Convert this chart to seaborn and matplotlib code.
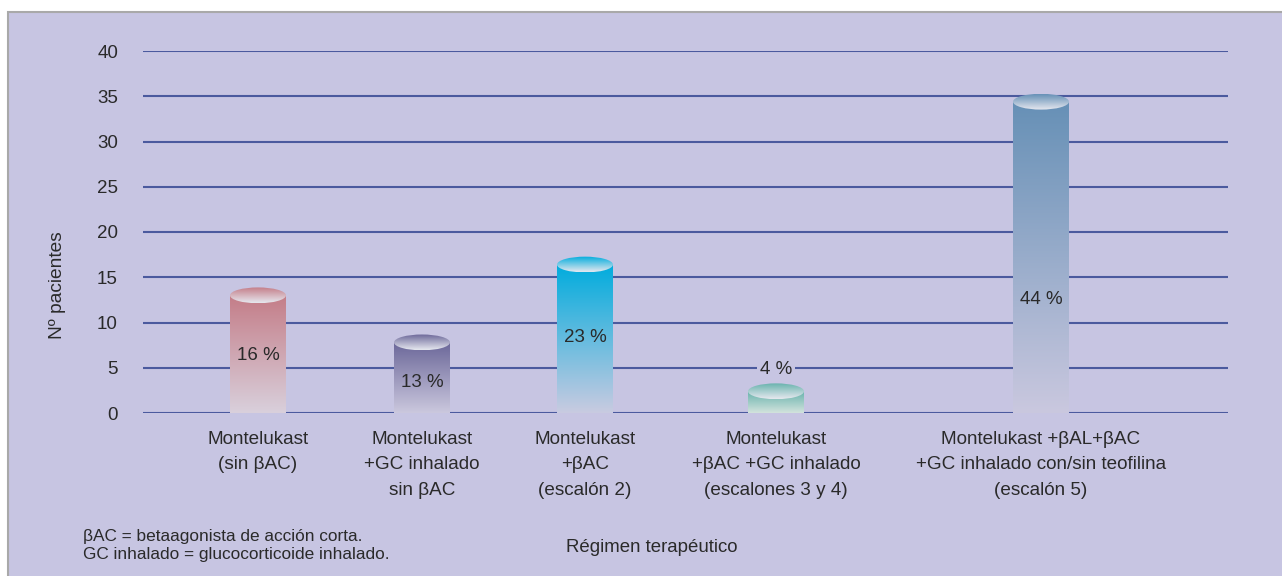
import numpy as np
import matplotlib
matplotlib.use("Agg")
import matplotlib.pyplot as plt
import seaborn as sns
import pandas as pd
from matplotlib.patches import Ellipse, Rectangle
from matplotlib.colors import LinearSegmentedColormap

# ---------------- data ----------------
categories = [
    "Montelukast\n(sin βAC)",
    "Montelukast\n+GC inhalado\nsin βAC",
    "Montelukast\n+βAC\n(escalón 2)",
    "Montelukast\n+βAC +GC inhalado\n(escalones 3 y 4)",
    "Montelukast +βAL+βAC\n+GC inhalado con/sin teofilina\n(escalón 5)",
]
patients = [13.0, 7.8, 16.4, 2.4, 34.4]
percent_labels = ["16 %", "13 %", "23 %", "4 %", "44 %"]
y_ticks = [0, 5, 10, 15, 20, 25, 30, 35, 40]

# ---------------- layout / style ----------------
bar_pos = [1.15, 2.79, 4.42, 6.33, 8.98]
bar_width = 0.56
label_y = [6.4, 3.4, 8.3, 4.8, 12.5]
top_colors = ["#c47d88", "#6b6799", "#00acdd", "#68b3ad", "#6690b6"]
bottom_colors = ["#d9d0dc", "#cbc8de", "#c9cbe1", "#d3e3dd", "#cac8df"]
bg = "#c7c5e2"
grid_color = "#4b5a9e"
text_color = "#2a2a2a"

sns.set_theme(style="white")
plt.rcParams["font.family"] = ["Liberation Sans", "DejaVu Sans"]

fig = plt.figure(figsize=(12.82, 5.76), dpi=100)
fig.patch.set_facecolor("white")
frame = Rectangle((8 / 1282, -0.01), 1.1, (576 - 12) / 576 + 0.01,
                  transform=fig.transFigure, facecolor=bg,
                  edgecolor="#a9a9a9", linewidth=1.5, zorder=0)
fig.add_artist(frame)

ax = fig.add_axes([143 / 1282, (576 - 413) / 576, 1085 / 1282, 362 / 576])
ax.set_facecolor("none")

df = pd.DataFrame({"pos": bar_pos, "n": patients})
min_gap = np.min(np.diff(sorted(bar_pos)))
sns.barplot(data=df, x="pos", y="n", native_scale=True,
            width=bar_width / min_gap, color="#888888", ax=ax, zorder=2)

ax.set_xlim(0, 10.85)
ax.set_ylim(0, 40)

# gridlines
for t in y_ticks:
    ax.axhline(t, color=grid_color, linewidth=1.5, zorder=1)

ell_h = 1.75
for i, p in enumerate(ax.patches[:len(patients)]):
    x0 = p.get_x()
    w = p.get_width()
    h = p.get_height()
    p.set_facecolor("none")
    p.set_edgecolor("none")
    cmap = LinearSegmentedColormap.from_list(f"c{i}", [bottom_colors[i], top_colors[i]])
    grad = np.linspace(0, 1, 256).reshape(-1, 1)
    im = ax.imshow(grad, cmap=cmap, aspect="auto", origin="lower",
                   extent=(x0, x0 + w, 0, h), zorder=2, interpolation="bicubic")
    im.set_clip_path(p)
    # top ellipse
    e = Ellipse((x0 + w / 2, h), w, ell_h, facecolor="none", edgecolor="none", zorder=3)
    ax.add_patch(e)
    cmap2 = LinearSegmentedColormap.from_list(f"e{i}", ["#e6e8ef", top_colors[i]])
    im2 = ax.imshow(grad, cmap=cmap2, aspect="auto", origin="lower",
                    extent=(x0, x0 + w, h - ell_h / 2, h + ell_h / 2), zorder=3,
                    interpolation="bicubic")
    im2.set_clip_path(e)
    # percentage label
    kw = {}
    if label_y[i] > h:
        kw["bbox"] = dict(facecolor=bg, edgecolor="none", pad=2)
    ax.text(x0 + w / 2, label_y[i], percent_labels[i], ha="center", va="center",
            fontsize=13.5, color=text_color, zorder=5, **kw)

ax.set_xlim(0, 10.85)
ax.set_ylim(0, 40)

for s in ax.spines.values():
    s.set_visible(False)
ax.set_yticks(y_ticks)
ax.set_yticklabels([str(t) for t in y_ticks], fontsize=13.5, color=text_color)
ax.tick_params(axis="y", length=0, pad=18)
ax.set_xticks(bar_pos)
ax.set_xticklabels(categories, fontsize=13.6, color=text_color, linespacing=1.64)
ax.tick_params(axis="x", length=0, pad=13)
ax.set_xlabel("")
ax.set_ylabel("")

fig.text(58 / 1282, 1 - 285 / 576, "Nº pacientes", rotation=90, ha="center", va="center",
         fontsize=13.8, color=text_color)
fig.text(652 / 1282, 1 - 547 / 576, "Régimen terapéutico", ha="center", va="center",
         fontsize=13.4, color=text_color)
fig.text(83 / 1282, 1 - 536 / 576, "βAC = betaagonista de acción corta.", ha="left",
         va="center", fontsize=12.4, color=text_color)
fig.text(83 / 1282, 1 - 555 / 576, "GC inhalado = glucocorticoide inhalado.", ha="left",
         va="center", fontsize=12.4, color=text_color)

fig.savefig("out.png", dpi=100, facecolor="white")
